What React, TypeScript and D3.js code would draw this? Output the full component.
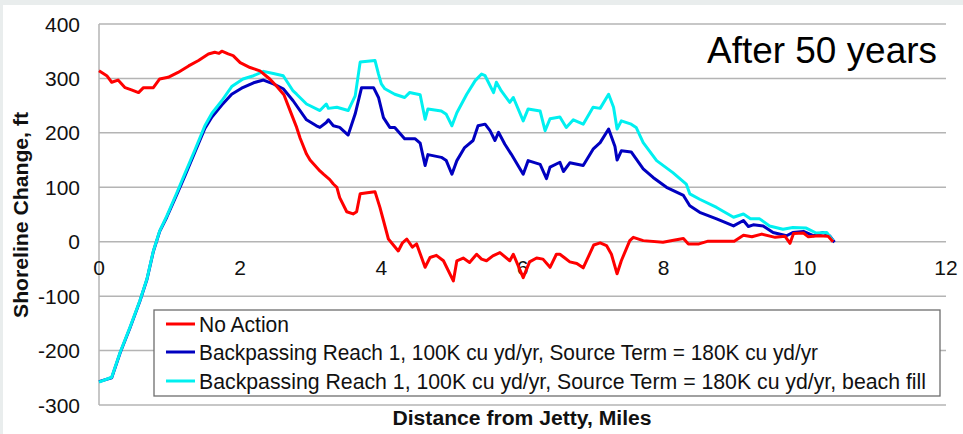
import React from "react";
import * as d3 from "d3";

// ---- data ----
const yTicks = [400, 300, 200, 100, 0, -100, -200, -300];
const xTicks = [0, 2, 4, 6, 8, 10, 12];

const noActionX = [0.00,0.11,0.18,0.27,0.37,0.46,0.56,0.63,0.77,0.86,0.98,1.12,1.27,1.41,1.55,1.64,1.70,1.74,1.83,1.90,2.00,2.14,2.28,2.42,2.52,2.62,2.71,2.80,2.85,2.94,2.99,3.13,3.18,3.27,3.32,3.37,3.41,3.51,3.60,3.65,3.70,3.80,3.91,3.98,4.03,4.10,4.24,4.30,4.36,4.44,4.50,4.62,4.69,4.78,4.88,5.02,5.07,5.16,5.25,5.35,5.42,5.49,5.58,5.68,5.82,5.87,6.01,6.10,6.20,6.29,6.39,6.48,6.53,6.60,6.67,6.77,6.86,7.01,7.10,7.19,7.26,7.34,7.40,7.52,7.57,7.71,7.99,8.16,8.28,8.35,8.50,8.63,9.00,9.13,9.25,9.39,9.58,9.72,9.79,9.84,9.98,10.05,10.19,10.33,10.40];
const noActionY = [314,305,293,297,283,279,274,283,283,299,302,311,323,333,345,348,346,350,345,342,329,320,314,299,285,270,240,210,190,161,150,130,124,114,106,100,81,55,51,55,88,90,92,63,39,5,-17,-2,5,-10,-4,-47,-29,-25,-35,-72,-35,-30,-38,-23,-32,-35,-26,-20,-35,-23,-66,-37,-30,-32,-47,-23,-23,-30,-37,-40,-48,-6,-2,-7,-23,-59,-35,2,8,2,-1,3,6,-4,-4,1,1,12,9,14,8,10,-3,15,16,9,11,10,0];

const backpassX = [0.00,0.18,0.30,0.44,0.58,0.68,0.77,0.86,0.96,1.10,1.22,1.36,1.50,1.60,1.74,1.88,2.02,2.19,2.33,2.47,2.61,2.75,2.94,3.08,3.13,3.22,3.25,3.32,3.41,3.53,3.63,3.72,3.89,3.96,4.03,4.12,4.19,4.33,4.48,4.55,4.62,4.66,4.85,4.92,5.00,5.07,5.18,5.30,5.37,5.47,5.54,5.61,5.66,5.75,5.84,6.01,6.08,6.25,6.34,6.39,6.53,6.58,6.67,6.86,7.00,7.10,7.22,7.31,7.34,7.40,7.54,7.71,7.85,8.04,8.28,8.37,8.51,8.75,8.99,9.13,9.20,9.27,9.41,9.55,9.74,9.83,9.98,10.12,10.26,10.35,10.42];
const backpassY = [-257,-250,-204,-158,-109,-69,-18,19,45,86,122,165,208,229,251,271,282,292,297,290,281,259,224,213,210,219,224,213,210,196,235,283,283,265,228,210,210,189,189,181,140,160,155,149,124,149,173,186,213,216,204,186,201,179,161,124,149,142,116,137,146,129,145,140,170,182,207,175,150,167,165,134,118,100,85,66,54,42,29,39,28,31,29,17,11,17,19,11,17,11,-1];

const beachFillX = [0.00,0.18,0.30,0.44,0.58,0.68,0.77,0.86,0.96,1.10,1.22,1.36,1.50,1.60,1.74,1.88,2.04,2.19,2.33,2.47,2.61,2.75,2.80,2.94,3.13,3.22,3.25,3.37,3.53,3.63,3.70,3.91,3.96,4.00,4.05,4.19,4.33,4.40,4.55,4.62,4.66,4.85,4.92,5.00,5.07,5.21,5.33,5.42,5.47,5.59,5.63,5.70,5.82,5.87,6.01,6.08,6.25,6.32,6.39,6.53,6.62,6.72,6.86,7.00,7.10,7.22,7.29,7.34,7.40,7.54,7.61,7.71,7.90,8.13,8.32,8.37,8.51,8.75,8.99,9.13,9.23,9.36,9.50,9.69,9.83,10.02,10.16,10.31,10.40];
const beachFillY = [-258,-249,-203,-157,-108,-68,-17,20,47,89,126,169,213,236,259,285,299,305,313,309,305,277,271,253,241,253,245,247,241,268,330,333,308,290,281,271,265,274,270,225,244,240,234,213,237,271,296,308,305,274,293,277,256,265,222,244,240,204,226,229,210,224,216,247,245,271,247,207,222,216,210,182,149,127,106,88,78,63,45,51,42,42,29,23,26,25,16,17,2];

const seriesNames = [
  "No Action",
  "Backpassing Reach 1, 100K cu yd/yr, Source Term = 180K cu yd/yr",
  "Backpassing Reach 1, 100K cu yd/yr, Source Term = 180K cu yd/yr, beach fill",
];
const seriesColors = ["#ff0000", "#0000c0", "#00f0f0"];
const legendTextWidths = [90, 619, 727];

const W = 963;
const H = 434;

export default function App() {
  const x = d3.scaleLinear().domain([0, 12]).range([99, 946]);
  const y = d3.scaleLinear().domain([-300, 400]).range([405, 24]);

  const line = d3
    .line<[number, number]>()
    .x((d) => x(d[0]))
    .y((d) => y(d[1]));

  const zip = (xs: number[], ys: number[]) =>
    xs.map((v, i) => [v, ys[i]] as [number, number]);

  const series = [
    zip(noActionX, noActionY),
    zip(backpassX, backpassY),
    zip(beachFillX, beachFillY),
  ];
  const drawOrder = [1, 2, 0];

  const font = "'Liberation Sans', Arial, sans-serif";
  const narrow = "'Liberation Sans Narrow', 'Arial Narrow', 'Liberation Sans', Arial, sans-serif";

  const legX = 154, legY = 310, legW = 786, legH = 86;
  const legRowY = [324, 352, 381];

  return (
    <svg
      width={W}
      height={H}
      style={{ position: "absolute", left: 0, top: 0 }}
      xmlns="http://www.w3.org/2000/svg"
    >
      <rect x={0} y={0} width={W} height={H} fill="#e9eded" />
      <rect x={3} y={5} width={W - 3} height={H - 5} fill="#ffffff" />

      {/* gridlines */}
      {yTicks.map((t) => (
        <line
          key={"g" + t}
          x1={x(0)}
          x2={x(12)}
          y1={y(t)}
          y2={y(t)}
          stroke="#b4b4b4"
          strokeWidth={1.5}
        />
      ))}
      <line x1={x(0)} x2={x(0)} y1={y(400)} y2={y(-300)} stroke="#b4b4b4" strokeWidth={1.5} />

      {/* y tick labels */}
      {yTicks.map((t) => (
        <text
          key={"yl" + t}
          x={80}
          y={y(t) + 7.5}
          textAnchor="end"
          fontFamily={font}
          fontSize={21}
          fill="#111"
        >
          {t}
        </text>
      ))}

      {/* x tick labels */}
      {xTicks.map((t) => (
        <text
          key={"xl" + t}
          x={x(t)}
          y={275}
          textAnchor="middle"
          fontFamily={font}
          fontSize={21}
          fill="#111"
        >
          {t}
        </text>
      ))}

      {/* series */}
      {drawOrder.map((i) => (
        <path
          key={"s" + i}
          d={line(series[i]) || ""}
          fill="none"
          stroke={seriesColors[i]}
          strokeWidth={3}
          strokeLinejoin="round"
        />
      ))}

      {/* axis titles */}
      <text
        transform="translate(28,215) rotate(-90)"
        textAnchor="middle"
        fontFamily={font}
        fontWeight="bold"
        fontSize={20}
        textLength={206}
        lengthAdjust="spacingAndGlyphs"
        fill="#111"
      >
        Shoreline Change, ft
      </text>
      <text
        x={522}
        y={425}
        textAnchor="middle"
        fontFamily={font}
        fontWeight="bold"
        fontSize={20}
        textLength={259}
        lengthAdjust="spacingAndGlyphs"
        fill="#111"
      >
        Distance from Jetty, Miles
      </text>

      {/* annotation */}
      <text
        x={707}
        y={63}
        fontFamily={font}
        fontSize={37}
        textLength={230}
        lengthAdjust="spacingAndGlyphs"
        fill="#000"
      >
        After 50 years
      </text>

      {/* legend */}
      <rect x={legX} y={legY} width={legW} height={legH} fill="#ffffff" stroke="#6e6e6e" strokeWidth={1.3} />
      {seriesNames.map((name, i) => (
        <g key={"lg" + i}>
          <line
            x1={166}
            x2={195}
            y1={legRowY[i]}
            y2={legRowY[i]}
            stroke={seriesColors[i]}
            strokeWidth={3}
          />
          <text
            x={199}
            y={legRowY[i] + 8}
            fontFamily={narrow}
            fontSize={22}
            textLength={legendTextWidths[i]}
            lengthAdjust="spacingAndGlyphs"
            fill="#111"
          >
            {name}
          </text>
        </g>
      ))}
    </svg>
  );
}
